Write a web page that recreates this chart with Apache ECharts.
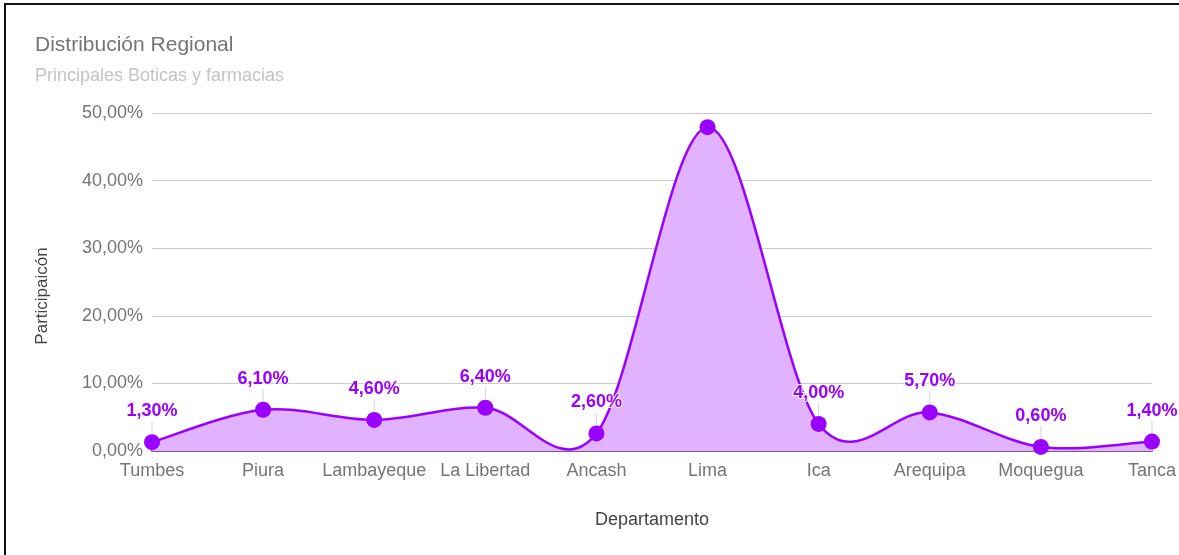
<!DOCTYPE html>
<html>
<head>
<meta charset="utf-8">
<script src="https://cdn.jsdelivr.net/npm/echarts@6/dist/echarts.min.js"></script>
<style>
  html, body { margin: 0; padding: 0; background: #fff; }
  #chart { width: 1179px; height: 555px; }
</style>
</head>
<body>
<div id="chart"></div>
<script>
// Departments and their share of the main pharmacies and drugstores (%)
const categories = ['Tumbes', 'Piura', 'Lambayeque', 'La Libertad', 'Ancash', 'Lima', 'Ica', 'Arequipa', 'Moquegua', 'Tanca'];
const participation = [1.3, 6.1, 4.6, 6.4, 2.6, 47.9, 4.0, 5.7, 0.6, 1.4];
// Departments whose annotation is not drawn
const hiddenLabels = ['Lima'];
const yTicks = [0, 10, 20, 30, 40, 50];

const FONT = '"Liberation Sans", Arial, sans-serif';
const PURPLE = '#9900ff';
const FILL = '#e0b2ff';

function pct(v) {
  return v.toFixed(2).replace('.', ',') + '%';
}

// Catmull-Rom curve through the points, as cubic Bezier path commands
function curvePath(pts) {
  let d = 'M' + pts[0][0] + ' ' + pts[0][1];
  for (let i = 0; i < pts.length - 1; i++) {
    const p0 = pts[Math.max(i - 1, 0)];
    const p1 = pts[i];
    const p2 = pts[i + 1];
    const p3 = pts[Math.min(i + 2, pts.length - 1)];
    const c1x = p1[0] + (p2[0] - p0[0]) / 6, c1y = p1[1] + (p2[1] - p0[1]) / 6;
    const c2x = p2[0] - (p3[0] - p1[0]) / 6, c2y = p2[1] - (p3[1] - p1[1]) / 6;
    d += ' C' + c1x + ' ' + c1y + ' ' + c2x + ' ' + c2y + ' ' + p2[0] + ' ' + p2[1];
  }
  return d;
}

// Draws the whole smoothed area and line once, from the axis scales
function renderCurve(params, api) {
  if (params.dataIndex !== 0) return { type: 'group', children: [] };
  const pts = participation.map((v, i) => api.coord([i, v]));
  const base = api.coord([0, 0])[1];
  const line = curvePath(pts);
  const last = pts[pts.length - 1];
  const area = line + ' L' + last[0] + ' ' + base + ' L' + pts[0][0] + ' ' + base + ' Z';
  return {
    type: 'group',
    children: [
      { type: 'path', shape: { pathData: area }, style: { fill: FILL, stroke: null } },
      { type: 'path', shape: { pathData: line }, style: { fill: null, stroke: PURPLE, lineWidth: 2.5 } }
    ]
  };
}

const seriesData = participation.map((v, i) => ({
  value: v,
  label: { show: hiddenLabels.indexOf(categories[i]) === -1 }
}));

const chart = echarts.init(document.getElementById('chart'), null, { renderer: 'canvas' });

chart.setOption({
  animation: false,
  backgroundColor: '#ffffff',
  title: {
    text: 'Distribución Regional',
    subtext: 'Principales Boticas y farmacias',
    left: 30,
    top: 30,
    itemGap: 11,
    textStyle: { fontFamily: FONT, fontSize: 21, fontWeight: 'normal', color: '#757575' },
    subtextStyle: { fontFamily: FONT, fontSize: 18, color: '#c4c4c4' }
  },
  grid: { left: 152, right: 27, top: 113, bottom: 104, containLabel: false },
  xAxis: {
    type: 'category',
    data: categories,
    boundaryGap: false,
    name: 'Departamento',
    nameLocation: 'middle',
    nameGap: 60,
    nameTextStyle: { fontFamily: FONT, fontSize: 18, color: '#444' },
    axisLine: { show: true, lineStyle: { color: '#7b5a8c', width: 2 } },
    axisTick: { show: false },
    axisLabel: { fontFamily: FONT, fontSize: 18, color: '#757575', margin: 11, interval: 0 },
    splitLine: { show: false }
  },
  yAxis: {
    type: 'value',
    min: yTicks[0],
    max: yTicks[yTicks.length - 1],
    interval: 10,
    name: 'Participaicón',
    nameLocation: 'middle',
    nameGap: 101,
    nameTextStyle: { fontFamily: FONT, fontSize: 17, color: '#444', padding: [0, 0, 0, -28] },
    axisLine: { show: false },
    axisTick: { show: false },
    axisLabel: { fontFamily: FONT, fontSize: 18, color: '#757575', margin: 9, formatter: pct },
    splitLine: { lineStyle: { color: '#cccccc', width: 1 } }
  },
  series: [
    {
      type: 'custom',
      data: participation,
      renderItem: renderCurve,
      clip: true,
      silent: true,
      z: 2
    },
    {
      type: 'line',
      data: seriesData,
      clip: true,
      symbol: 'circle',
      symbolSize: 16,
      showAllSymbol: true,
      itemStyle: { color: PURPLE },
      lineStyle: { width: 0, opacity: 0 },
      label: {
        show: true,
        position: 'top',
        distance: 6,
        formatter: p => pct(p.value),
        fontFamily: FONT,
        fontSize: 18,
        fontWeight: 'bold',
        color: PURPLE,
        textBorderColor: '#ffffff',
        textBorderWidth: 2
      },
      labelLayout: { dy: -8 },
      labelLine: { show: true, lineStyle: { color: '#d6d6d6', width: 1 } },
      z: 3
    }
  ],
  graphic: [
    { type: 'line', shape: { x1: 4, y1: 4, x2: 1179, y2: 4 }, style: { stroke: '#111', lineWidth: 2 } },
    { type: 'line', shape: { x1: 5, y1: 3, x2: 5, y2: 555 }, style: { stroke: '#111', lineWidth: 2 } }
  ]
});
</script>
</body>
</html>
